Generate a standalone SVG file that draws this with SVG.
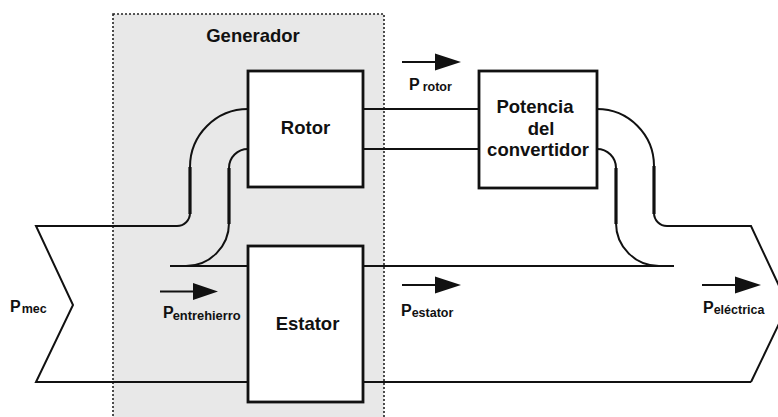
<svg xmlns="http://www.w3.org/2000/svg" width="778" height="417" viewBox="0 0 778 417">
  <defs>
    <style>
      .line { fill: none; stroke: #111; stroke-width: 2; }
      .thick { fill: none; stroke: #111; stroke-width: 3.2; }
      .box { fill: #fff; stroke: #111; stroke-width: 2.8; }
      .title { font-family: "Liberation Sans", Arial, sans-serif; font-weight: bold; font-size: 18.5px; fill: #111; text-anchor: middle; }
      .p { font-family: "Liberation Sans", Arial, sans-serif; font-weight: bold; font-size: 16px; fill: #111; }
      .sub { font-size: 12.5px; }
      .arrow { stroke: #111; stroke-width: 2.2; fill: none; }
      .head { fill: #111; }
    </style>
  </defs>

  <!-- generator enclosure -->
  <g id="generador">
    <rect x="113" y="14" width="271" height="420" fill="#e8e8e8" stroke="#222" stroke-width="1.6" stroke-dasharray="2 2"/>
    <text class="title" x="253" y="42" font-size="17.5">Generador</text>
  </g>

  <!-- power flow paths -->
  <g id="connectors">
    <!-- mechanical input chevron and lower bus -->
    <polyline class="line" points="173,226 36,226 73,305 36,382 248,382"/>
    <line class="line" x1="363" y1="382" x2="751" y2="382"/>
    <polyline class="line" points="751,382 788,305 751,226 672,226"/>
    <!-- rotor outer path -->
    <path class="line" d="M248,109 A58,58 0 0 0 190,167"/>
    <line class="thick" x1="190" y1="167" x2="190" y2="214"/>
    <path class="line" d="M190,213 A13,13 0 0 1 177,226 L172,226"/>
    <!-- rotor inner path -->
    <path class="line" d="M248,149 A19,19 0 0 0 229,168"/>
    <line class="thick" x1="229" y1="168" x2="229" y2="224"/>
    <path class="line" d="M229,223 A43,43 0 0 1 186,266"/>
    <!-- stator upper bus -->
    <line class="line" x1="170" y1="266" x2="248" y2="266"/>
    <line class="line" x1="363" y1="266" x2="674" y2="266"/>
    <!-- rotor to converter -->
    <line class="line" x1="363" y1="109" x2="479" y2="109"/>
    <line class="line" x1="363" y1="149" x2="479" y2="149"/>
    <!-- converter outer path -->
    <path class="line" d="M597,109 A57,57 0 0 1 654,166"/>
    <line class="thick" x1="654" y1="166" x2="654" y2="214"/>
    <path class="line" d="M654,213 A13,13 0 0 0 667,226 L673,226"/>
    <!-- converter inner path -->
    <path class="line" d="M597,149 A19,19 0 0 1 616,168"/>
    <line class="thick" x1="616" y1="168" x2="616" y2="224"/>
    <path class="line" d="M616,223 A43,43 0 0 0 659,266"/>
  </g>

  <g id="rotor">
    <rect class="box" x="248" y="71" width="115" height="116"/>
    <text class="title" x="305.5" y="133.5" font-size="18">Rotor</text>
  </g>

  <g id="estator">
    <rect class="box" x="248" y="246" width="115" height="156"/>
    <text class="title" x="307.5" y="329.5" font-size="18">Estator</text>
  </g>

  <g id="convertidor">
    <rect class="box" x="479" y="71" width="118" height="117"/>
    <text class="title" x="535" y="113">Potencia</text>
    <text class="title" x="541" y="134.5">del</text>
    <text class="title" x="538" y="156">convertidor</text>
  </g>

  <!-- power labels and direction arrows -->
  <g id="p-mec">
    <text class="p" x="10" y="312">P<tspan class="sub" dx="1" dy="1">mec</tspan></text>
  </g>

  <g id="p-entrehierro">
    <line class="arrow" x1="160" y1="291.5" x2="195" y2="291.5"/>
    <polygon class="head" points="193,283 218,291.5 193,300"/>
    <text class="p" x="163" y="318">P<tspan class="sub" dx="-1" dy="2" textLength="68" lengthAdjust="spacingAndGlyphs">entrehierro</tspan></text>
  </g>

  <g id="p-rotor">
    <line class="arrow" x1="402" y1="62" x2="437" y2="62"/>
    <polygon class="head" points="435,53.5 461,62 435,70.5"/>
    <text class="p" x="409" y="90">P<tspan class="sub" dx="3" dy="1">rotor</tspan></text>
  </g>

  <g id="p-estator">
    <line class="arrow" x1="402" y1="285" x2="437" y2="285"/>
    <polygon class="head" points="435,276.5 461,285 435,293.5"/>
    <text class="p" x="401" y="316">P<tspan class="sub" dy="1">estator</tspan></text>
  </g>

  <g id="p-electrica">
    <line class="arrow" x1="702" y1="285" x2="737" y2="285"/>
    <polygon class="head" points="735,276.5 761,285 735,293.5"/>
    <text class="p" x="703" y="313">P<tspan class="sub" dy="1">eléctrica</tspan></text>
  </g>
</svg>
